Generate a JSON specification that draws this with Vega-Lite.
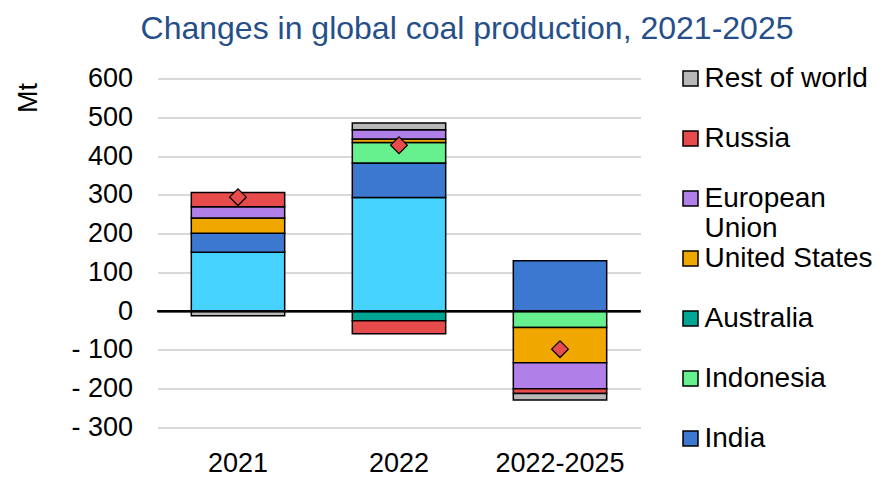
{
  "$schema": "https://vega.github.io/schema/vega-lite/v6.json",
  "width": 483,
  "height": 349,
  "autosize": "none",
  "padding": {"left": 157.5, "top": 78.5, "right": 243, "bottom": 51.5},
  "background": "white",
  "config": {
    "view": {"stroke": null},
    "font": "Liberation Sans"
  },
  "title": {
    "text": "Changes in global coal production, 2021-2025",
    "fontSize": 32,
    "fontWeight": "normal",
    "color": "#264F8A",
    "font": "Liberation Sans",
    "anchor": "middle",
    "frame": "group",
    "dx": 68,
    "offset": 19
  },
  "datasets": {
    "changes": [
      {"period": "2021", "region": "China", "ord": 1, "value": 152},
      {"period": "2021", "region": "India", "ord": 2, "value": 49},
      {"period": "2021", "region": "United States", "ord": 5, "value": 39},
      {"period": "2021", "region": "European Union", "ord": 6, "value": 29},
      {"period": "2021", "region": "Russia", "ord": 7, "value": 37},
      {"period": "2021", "region": "Rest of world", "ord": 8, "value": -12},
      {"period": "2022", "region": "China", "ord": 1, "value": 293},
      {"period": "2022", "region": "India", "ord": 2, "value": 89},
      {"period": "2022", "region": "Indonesia", "ord": 3, "value": 53},
      {"period": "2022", "region": "Australia", "ord": 4, "value": -25},
      {"period": "2022", "region": "United States", "ord": 5, "value": 9},
      {"period": "2022", "region": "European Union", "ord": 6, "value": 24},
      {"period": "2022", "region": "Russia", "ord": 7, "value": -33},
      {"period": "2022", "region": "Rest of world", "ord": 8, "value": 17},
      {"period": "2022-2025", "region": "India", "ord": 2, "value": 130},
      {"period": "2022-2025", "region": "Indonesia", "ord": 3, "value": -42},
      {"period": "2022-2025", "region": "United States", "ord": 5, "value": -91},
      {"period": "2022-2025", "region": "European Union", "ord": 6, "value": -67},
      {"period": "2022-2025", "region": "Russia", "ord": 7, "value": -12},
      {"period": "2022-2025", "region": "Rest of world", "ord": 8, "value": -17}
    ],
    "net": [
      {"period": "2021", "net": 294},
      {"period": "2022", "net": 428},
      {"period": "2022-2025", "net": -98}
    ]
  },
  "layer": [
    {
      "data": {"name": "changes"},
      "mark": {"type": "bar", "stroke": "black", "strokeWidth": 1.5},
      "encoding": {
        "x": {
          "field": "period",
          "type": "nominal",
          "sort": null,
          "scale": {"paddingInner": 0.42, "paddingOuter": 0.21},
          "axis": {
            "title": null,
            "labelAngle": 0,
            "labelFontSize": 27,
            "labelColor": "black",
            "labelPadding": 23,
            "ticks": false,
            "domain": false
          }
        },
        "y": {
          "field": "value",
          "type": "quantitative",
          "stack": "zero",
          "scale": {"domain": [-300, 600], "nice": false, "zero": false},
          "axis": {
            "title": "Mt",
            "titleFontSize": 27,
            "titleFontWeight": "normal",
            "titleColor": "black",
            "titleAngle": -90,
            "titleX": -129,
            "titleY": 19,
            "titleAlign": "center",
            "titleBaseline": "middle",
            "values": [-300, -200, -100, 0, 100, 200, 300, 400, 500, 600],
            "tickCount": 20,
            "labelExpr": "datum.value < 0 ? '- ' + format(-datum.value, 'd') : format(datum.value, 'd')",
            "labelOverlap": false,
            "labelFontSize": 27,
            "labelColor": "black",
            "labelPadding": 25,
            "ticks": false,
            "domain": false,
            "grid": true,
            "gridColor": "#d9d9d9",
            "gridWidth": 2
          }
        },
        "order": {"field": "ord", "type": "quantitative"},
        "color": {
          "field": "region",
          "type": "nominal",
          "scale": {
            "domain": ["Rest of world", "Russia", "European Union", "United States", "Australia", "Indonesia", "India", "China"],
            "range": ["#B8B8B8", "#E84B4B", "#B07FE8", "#F0A800", "#00A693", "#66F08E", "#3C78D0", "#46D3FF"]
          },
          "legend": {
            "title": null,
            "orient": "none",
            "legendX": 519,
            "legendY": -14,
            "padding": 0,
            "values": ["Rest of world", "Russia", "European Union", "United States", "Australia", "Indonesia", "India"],
            "labelExpr": "datum.label == 'European Union' ? ['European', 'Union'] : [datum.label, '']",
            "labelFontSize": 28,
            "labelColor": "black",
            "labelOffset": 0,
            "labelLimit": 300,
            "symbolType": "square",
            "symbolSize": 225,
            "symbolStrokeColor": "black",
            "symbolStrokeWidth": 1.5,
            "rowPadding": 2
          }
        }
      }
    },
    {
      "data": {"name": "net"},
      "mark": {"type": "rule", "color": "black", "strokeWidth": 2},
      "encoding": {"y": {"datum": 0}}
    },
    {
      "data": {"name": "net"},
      "mark": {"type": "point", "shape": "diamond", "filled": true, "fill": "#E84B4B", "stroke": "black", "strokeWidth": 1.2, "size": 280, "opacity": 1},
      "encoding": {
        "x": {"field": "period", "type": "nominal", "sort": null},
        "y": {"field": "net", "type": "quantitative"}
      }
    }
  ]
}
